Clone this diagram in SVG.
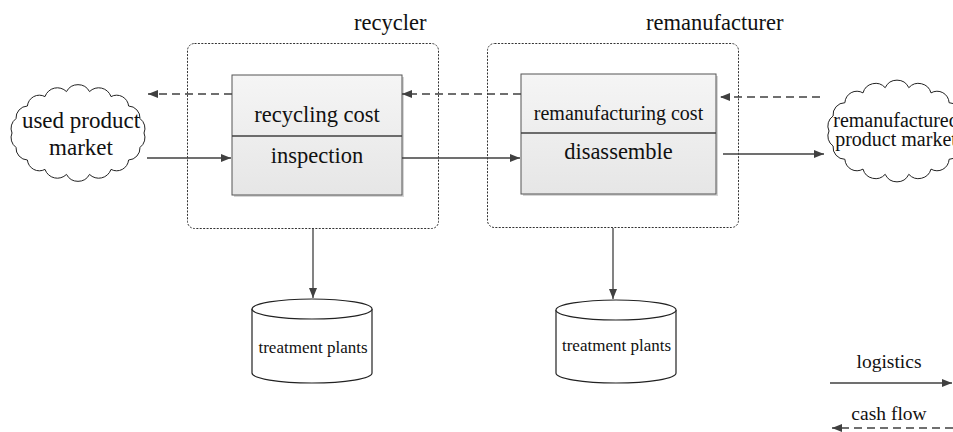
<svg xmlns="http://www.w3.org/2000/svg" width="953" height="432" viewBox="0 0 953 432" font-family="'Liberation Serif', 'DejaVu Serif', serif">
<style>
text{font-family:'Liberation Serif','DejaVu Serif',serif;fill:#111;}
.grp{fill:none;stroke:#333;stroke-width:1;stroke-dasharray:2 1.4;}
.box{fill:url(#g);stroke:#555;stroke-width:1;}
.shadow{fill:#d6d6d6;}
.div{stroke:#404040;stroke-width:1.6;}
.cloud{fill:#fff;stroke:#222;stroke-width:1;}
.cyl{fill:#fff;stroke:#222;stroke-width:1.2;}
.log{fill:none;stroke:#404040;stroke-width:1.3;marker-end:url(#ah);}
.cash{fill:none;stroke:#404040;stroke-width:1.3;stroke-dasharray:8 5;marker-end:url(#ah);}
.big{font-size:22.5px;text-anchor:middle;}
.mid{font-size:20px;text-anchor:middle;}
.sm{font-size:17px;text-anchor:middle;}
.leg{font-size:19.5px;text-anchor:middle;}
</style>
<defs>
<linearGradient id="g" x1="0" y1="0" x2="0" y2="1">
<stop offset="0" stop-color="#f5f5f5"/>
<stop offset="1" stop-color="#e6e6e6"/>
</linearGradient>
<marker id="ah" viewBox="0 0 10 8" refX="10" refY="4" markerWidth="10" markerHeight="8" markerUnits="userSpaceOnUse" orient="auto">
<path d="M0,0 L10,4 L0,8 z" fill="#404040"/>
</marker>
</defs>

<g id="recycler">
<rect class="grp" x="187.5" y="43.5" width="251" height="185" rx="7"/>
<text x="354" y="30" font-family="Liberation Serif, serif" style="font-size:22.5px;">recycler</text>
<rect class="shadow" x="234" y="77" width="170" height="120"/>
<rect class="box" x="232" y="75" width="170" height="120"/>
<line class="div" x1="232" y1="136" x2="402" y2="136"/>
<text class="big" x="317" y="122" font-family="Liberation Serif, serif">recycling cost</text>
<text class="big" x="317" y="163" font-family="Liberation Serif, serif">inspection</text>
</g>

<g id="remanufacturer">
<rect class="grp" x="487.5" y="43.5" width="251" height="184" rx="7"/>
<text x="646" y="30" font-family="Liberation Serif, serif" style="font-size:22.5px;">remanufacturer</text>
<rect class="shadow" x="523" y="76" width="195" height="120"/>
<rect class="box" x="521" y="74" width="195" height="120"/>
<line class="div" x1="521" y1="133" x2="716" y2="133"/>
<text class="mid" x="618.5" y="120" font-family="Liberation Serif, serif">remanufacturing cost</text>
<text class="big" x="618.5" y="159" font-family="Liberation Serif, serif">disassemble</text>
</g>

<g id="used-market">
<path class="cloud" d="M144,133 A12,12 0 0 1 140,147.4 A12,12 0 0 1 128.6,160 A12,12 0 0 1 111,169.4 A13,13 0 0 1 89.5,174.4 A13,13 0 0 1 66.5,174.4 A13,13 0 0 1 45,169.4 A12,12 0 0 1 27.4,160 A12,12 0 0 1 16,147.4 A12,12 0 0 1 12,133 A12,12 0 0 1 16,118.6 A12,12 0 0 1 27.4,106 A12,12 0 0 1 45,96.6 A13,13 0 0 1 66.5,91.6 A13,13 0 0 1 89.5,91.6 A13,13 0 0 1 111,96.6 A12,12 0 0 1 128.6,106 A12,12 0 0 1 140,118.6 A12,12 0 0 1 144,133 Z"/>
<text x="81" y="128" font-family="Liberation Serif, serif" style="font-size:23px;text-anchor:middle;">used product</text>
<text x="81" y="155" font-family="Liberation Serif, serif" style="font-size:23px;text-anchor:middle;">market</text>
</g>

<g id="reman-market">
<path class="cloud" d="M965,131 A12,12 0 0 1 960.9,146 A12,12 0 0 1 949.1,159.3 A12,12 0 0 1 931,169.1 A13,13 0 0 1 908.8,174.3 A13,13 0 0 1 885.2,174.3 A13,13 0 0 1 863,169.1 A12,12 0 0 1 844.9,159.3 A12,12 0 0 1 833.1,146 A12,12 0 0 1 829,131 A12,12 0 0 1 833.1,116 A12,12 0 0 1 844.9,102.7 A12,12 0 0 1 863,92.9 A13,13 0 0 1 885.2,87.7 A13,13 0 0 1 908.8,87.7 A13,13 0 0 1 931,92.9 A12,12 0 0 1 949.1,102.7 A12,12 0 0 1 960.9,116 A12,12 0 0 1 965,131 Z"/>
<text class="mid" x="896" y="127" font-family="Liberation Serif, serif">remanufactured</text>
<text class="mid" x="896" y="146" font-family="Liberation Serif, serif">product market</text>
</g>

<g id="plant1">
<path class="cyl" d="M252,309 A60,10 0 0 1 372,309 L372,373 A60,10 0 0 1 252,373 Z"/>
<path class="cyl" d="M252,309 A60,10 0 0 0 372,309"/>
<text class="sm" x="313" y="353" font-family="Liberation Serif, serif">treatment plants</text>
</g>

<g id="plant2">
<path class="cyl" d="M556,310 A60,10 0 0 1 676,310 L676,373 A60,10 0 0 1 556,373 Z"/>
<path class="cyl" d="M556,310 A60,10 0 0 0 676,310"/>
<text class="sm" x="616.5" y="351" font-family="Liberation Serif, serif">treatment plants</text>
</g>

<g id="legend">
<text class="leg" x="889" y="368" font-family="Liberation Serif, serif">logistics</text>
<text class="leg" x="889" y="420" font-family="Liberation Serif, serif">cash flow</text>
</g>

<g id="connectors">
<line class="cash" x1="232" y1="94" x2="148" y2="94"/>
<line class="cash" x1="521" y1="94" x2="402" y2="94"/>
<line class="cash" x1="820" y1="97" x2="720" y2="97"/>
<line class="log" x1="147" y1="158" x2="231" y2="158"/>
<line class="log" x1="402" y1="158" x2="520" y2="158"/>
<line class="log" x1="723" y1="154" x2="824" y2="154"/>
<line class="log" x1="313" y1="229" x2="313" y2="298"/>
<line class="log" x1="613" y1="228" x2="613" y2="299"/>
<line class="log" x1="830" y1="383" x2="952" y2="383"/>
<line class="cash" x1="953" y1="428" x2="832" y2="428"/>
</g>
</svg>
